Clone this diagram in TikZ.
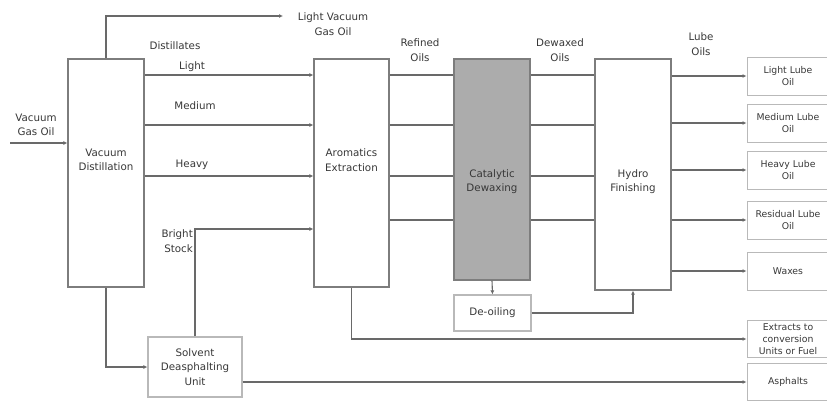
\documentclass[tikz,border=0pt]{standalone}
\usepackage{fontspec}
\setmainfont{DejaVu Sans}
\usetikzlibrary{arrows.meta,positioning}
\definecolor{linegray}{RGB}{105,105,105}
\definecolor{boxgray}{RGB}{125,125,125}
\definecolor{prodgray}{RGB}{185,185,185}
\definecolor{dewaxfill}{RGB}{172,172,172}
\definecolor{txtgray}{RGB}{55,55,55}
\tikzset{
  unit/.style={
    draw=boxgray,
    line width=1.2pt,
    minimum width=76pt,
    inner sep=0pt
  },
  product/.style={
    draw=prodgray,
    line width=1pt,
    minimum width=82pt,
    minimum height=38pt,
    inner sep=0pt,
    align=center,
    text=txtgray,
    font=\fontsize{9.3}{12}\selectfont
  },
  lbl/.style={align=center, inner sep=0pt, text=txtgray, font=\fontsize{10.3}{14.5}\selectfont},
  flow/.style={draw=linegray, line width=1.1pt, -{Latex[length=4pt,width=4pt]}},
  link/.style={draw=linegray, line width=1.1pt}
}

\begin{document}
\begin{tikzpicture}[x=1pt, y=-1pt]
        \useasboundingbox (0,0) rectangle (827,400);
        % process units
        \node[unit, minimum height=228pt, label={[lbl, yshift=13pt]center:Vacuum\\Distillation}] (vd) at (106,173) {};
        \node[unit, minimum width=75pt, minimum height=228pt, label={[lbl, yshift=13pt]center:Aromatics\\Extraction}] (ae) at (351.5,173) {};
        \node[unit, fill=dewaxfill, minimum height=221pt, label={[lbl, yshift=-12pt]center:Catalytic\\Dewaxing}] (cd) at (492,169.5) {};
        \node[unit, minimum height=231pt, label={[lbl, yshift=-7pt]center:Hydro\\Finishing}] (hf) at (633,174.5) {};
        \node[unit, lbl, draw=prodgray, minimum width=94pt, minimum height=60pt] (sdu) at (195,367) {Solvent\\Deasphalting\\Unit};
        \node[unit, lbl, draw=prodgray, minimum width=77pt, minimum height=36pt] (deoil) at (492.5,313) {De-oiling};
        % products
        \node[product] (p1) at (788,76) {Light Lube\\Oil};
        \node[product] (p2) at (788,123) {Medium Lube\\Oil};
        \node[product] (p3) at (788,170) {Heavy Lube\\Oil};
        \node[product] (p4) at (788,220) {Residual Lube\\Oil};
        \node[product] (p5) at (788,271) {Waxes};
        \node[product, minimum height=37pt] (p6) at (788,339) {Extracts to\\conversion\\Units or Fuel};
        \node[product, minimum height=37pt] (p7) at (788,382) {Asphalts};
        % stream labels
        \node[lbl] (vgolbl) at (36,125) {Vacuum\\Gas Oil};
        \node[lbl] (lvgolbl) at (333,24) {Light Vacuum\\Gas Oil};
        \node[lbl] (distl) at (175,46) {Distillates};
        \node[lbl] (lightl) at (192,67) {Light};
        \node[lbl] (mediuml) at (195,106) {Medium};
        \node[lbl] (heavyl) at (192,165) {Heavy};
        \node[lbl, align=right, anchor=east] (brightl) at (193,241) {Bright\\Stock};
        \node[lbl] (refl) at (420,50) {Refined\\Oils};
        \node[lbl] (dewl) at (560,50) {Dewaxed\\Oils};
        \node[lbl] (lubel) at (701,44) {Lube\\Oils};
        % rows
        \coordinate (r1) at (0,75);
        \coordinate (r2) at (0,125);
        \coordinate (r3) at (0,176);
        \coordinate (r4) at (0,220);
        \coordinate (vgo) at (10,143);
        \coordinate (lvgo) at (283,16);
        % streams
        \draw[flow] (vgo) -- (vd.west |- vgo);
        \draw[flow] (vd.north) |- (lvgo);
        \foreach \r in {r1,r2,r3}
          \draw[flow] (vd.east |- \r) -- (ae.west |- \r);
        \foreach \r in {r1,r2,r3,r4} {
          \draw[link] (ae.east |- \r) -- (cd.west |- \r);
          \draw[link] (cd.east |- \r) -- (hf.west |- \r);
        }
        \foreach \p in {p1,p2,p3,p4,p5}
          \draw[flow] (hf.east |- \p) -- (\p.west);
        \draw[flow] (vd.south) |- (sdu.west);
        \draw[flow] (sdu.north) |- ([yshift=-56pt]ae.west);
        \draw[flow] (sdu.east |- p7.west) -- (p7.west);
        \draw[flow] (ae.south) |- (p6.west);
        \draw[flow] (cd.south) -- (deoil.north);
        \draw[flow] (deoil.east) -| (hf.south);
      \end{tikzpicture}
\end{document}
